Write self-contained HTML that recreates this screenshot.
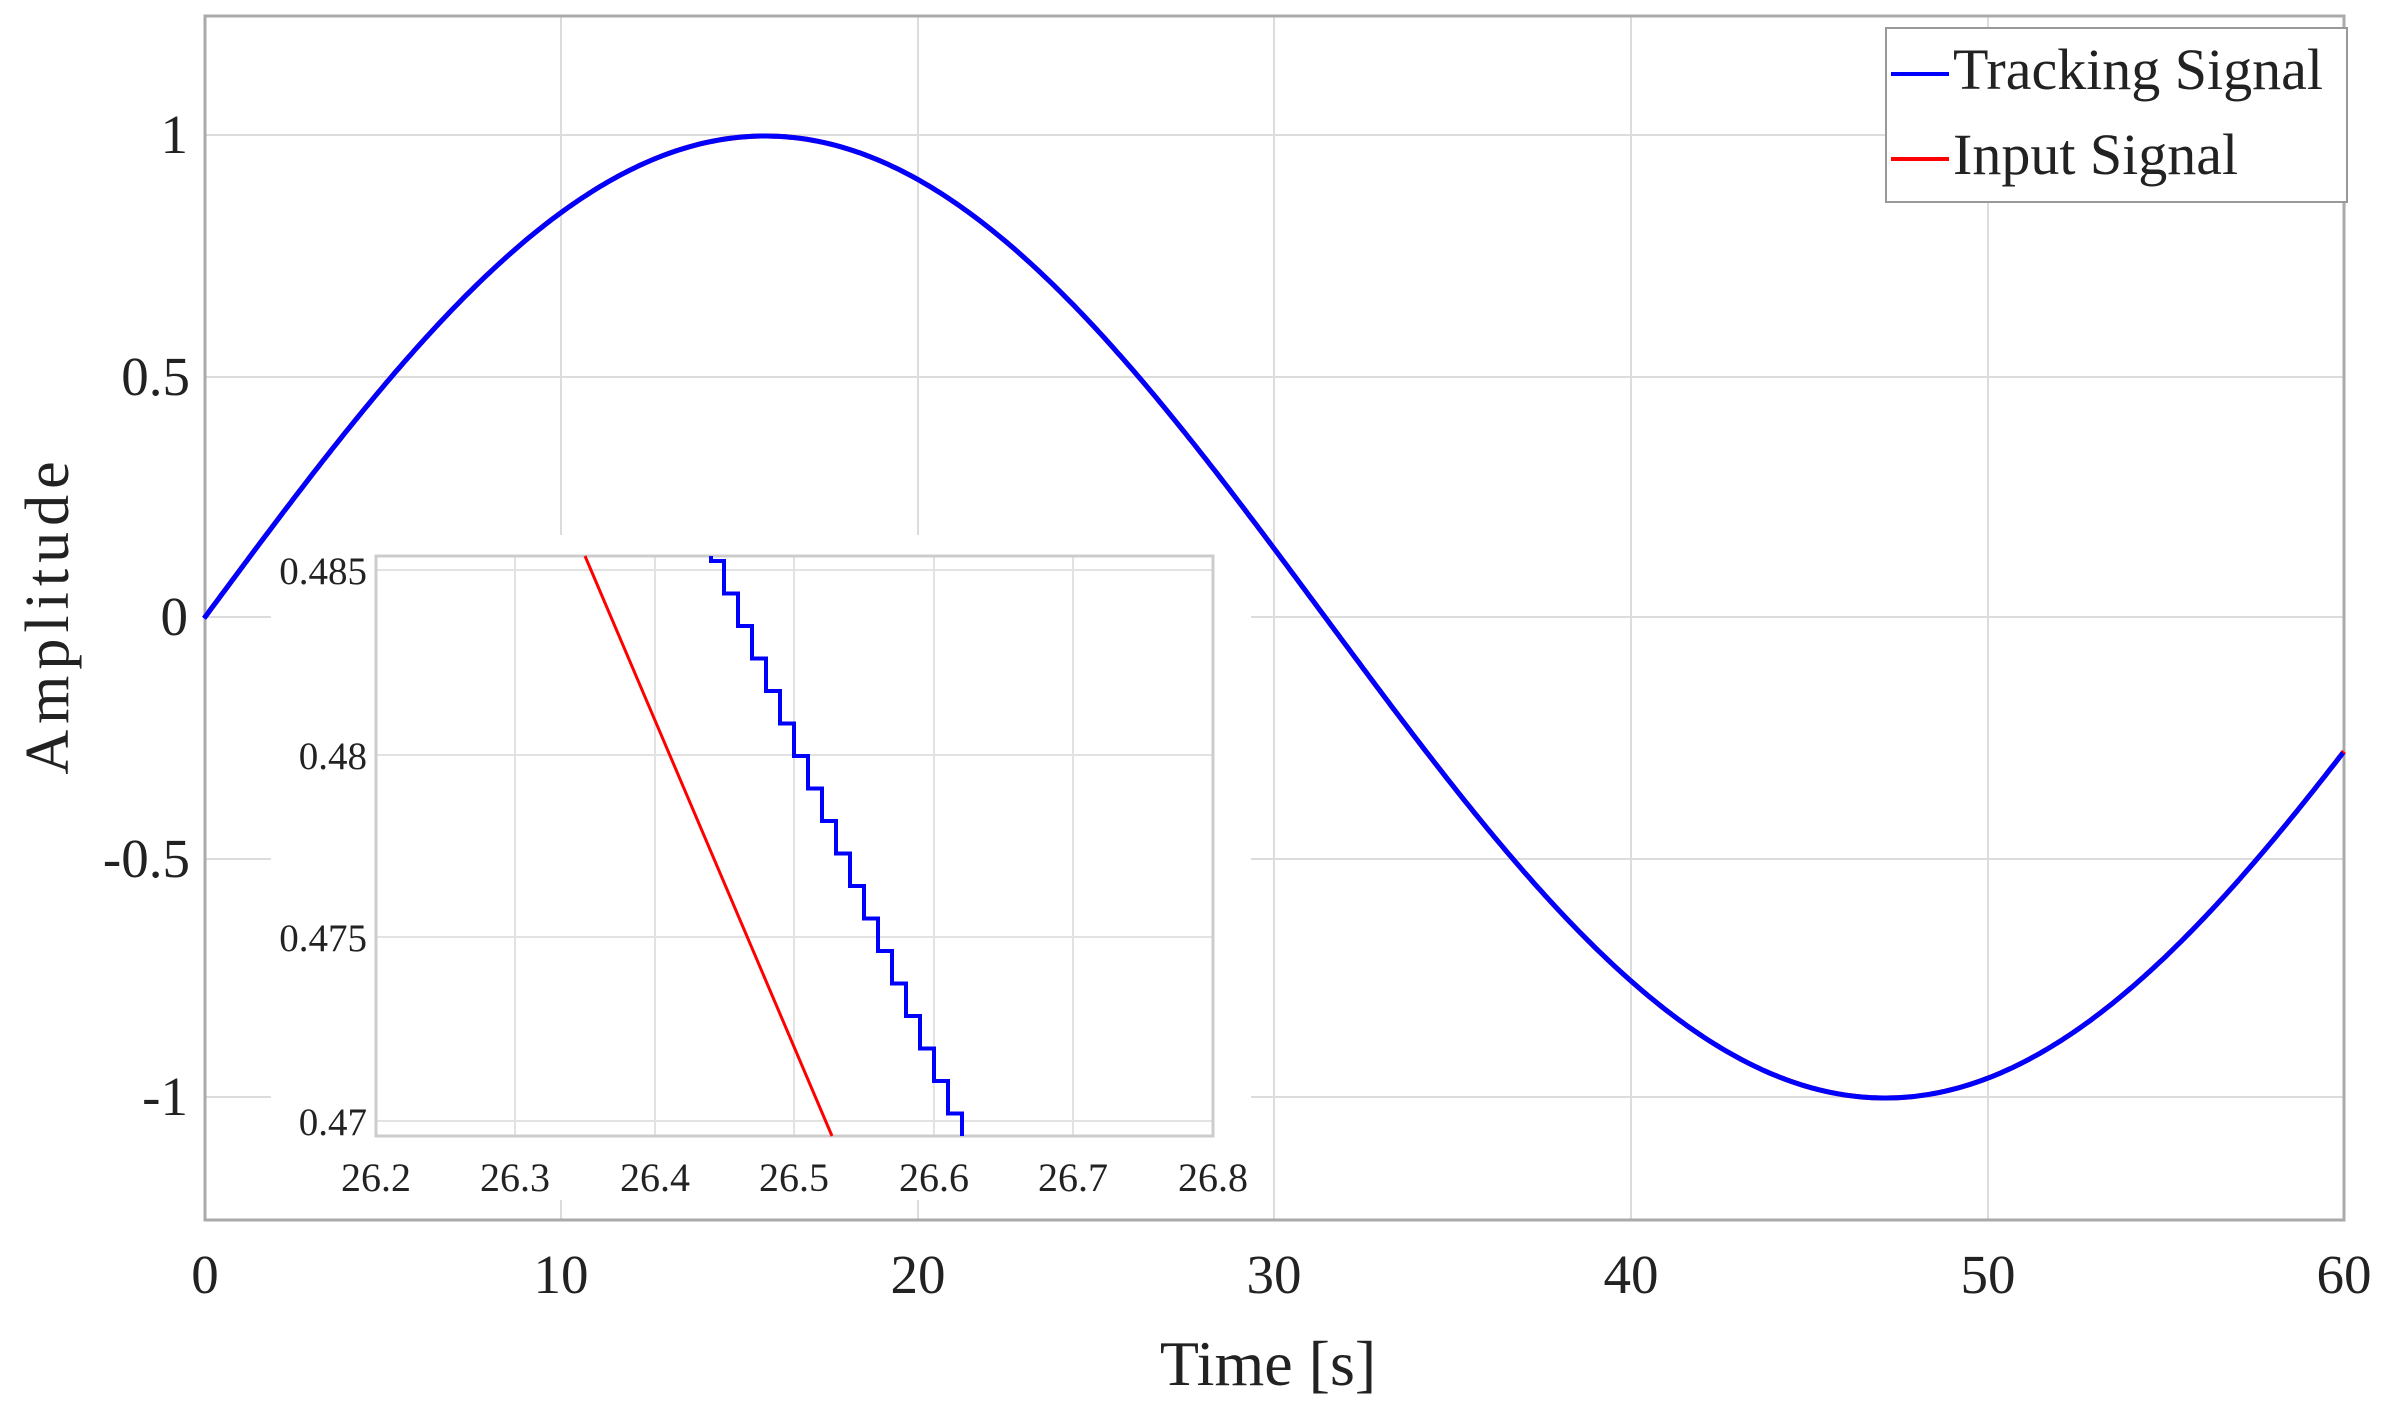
<!DOCTYPE html>
<html><head><meta charset="utf-8"><style>
html,body{margin:0;padding:0;background:#fff;}
svg{display:block;}
text{font-family:"Liberation Serif",serif;fill:#222;}
</style></head><body>
<svg id="s" width="2387" height="1417" viewBox="0 0 2387 1417" xmlns="http://www.w3.org/2000/svg">
<rect width="2387" height="1417" fill="#fff"/>
<g stroke="#dcdcdc" stroke-width="2">
<line x1="561" y1="16" x2="561" y2="1220"/><line x1="918" y1="16" x2="918" y2="1220"/>
<line x1="1274" y1="16" x2="1274" y2="1220"/><line x1="1631" y1="16" x2="1631" y2="1220"/>
<line x1="1988" y1="16" x2="1988" y2="1220"/>
<line x1="205" y1="135" x2="2344" y2="135"/><line x1="205" y1="377" x2="2344" y2="377"/>
<line x1="205" y1="617" x2="2344" y2="617"/><line x1="205" y1="859" x2="2344" y2="859"/>
<line x1="205" y1="1097" x2="2344" y2="1097"/>
</g>
<rect x="205" y="16" width="2139" height="1204" fill="none" stroke="#aaa" stroke-width="3"/>
<path id="red" fill="none" stroke="#ff0000" stroke-width="5"/>
<path id="blue" fill="none" stroke="#0000ff" stroke-width="5"/>
<!-- inset -->
<rect x="271" y="535" width="980" height="665" fill="#fff"/>
<g stroke="#e2e2e2" stroke-width="2">
<line x1="515" y1="556" x2="515" y2="1136"/><line x1="655" y1="556" x2="655" y2="1136"/>
<line x1="794" y1="556" x2="794" y2="1136"/><line x1="934" y1="556" x2="934" y2="1136"/>
<line x1="1073" y1="556" x2="1073" y2="1136"/>
<line x1="376" y1="570" x2="1213" y2="570"/><line x1="376" y1="755" x2="1213" y2="755"/>
<line x1="376" y1="937" x2="1213" y2="937"/><line x1="376" y1="1121" x2="1213" y2="1121"/>
</g>
<rect x="376" y="556" width="837" height="580" fill="none" stroke="#ccc" stroke-width="3"/>
<line x1="585" y1="556" x2="832" y2="1136" stroke="#ff0000" stroke-width="3"/>
<path id="stairs" fill="none" stroke="#0000ff" stroke-width="4"/>
<g font-size="39" text-anchor="end">
<text x="367" y="584">0.485</text><text x="367" y="769">0.48</text>
<text x="367" y="951">0.475</text><text x="367" y="1135">0.47</text>
</g>
<g font-size="40" text-anchor="middle">
<text x="376" y="1191">26.2</text><text x="515" y="1191">26.3</text><text x="655" y="1191">26.4</text>
<text x="794" y="1191">26.5</text><text x="934" y="1191">26.6</text><text x="1073" y="1191">26.7</text>
<text x="1213" y="1191">26.8</text>
</g>
<!-- main labels -->
<g font-size="55" text-anchor="end">
<text x="188" y="153">1</text><text x="190" y="395">0.5</text><text x="188" y="635">0</text>
<text x="190" y="877">-0.5</text><text x="188" y="1115">-1</text>
</g>
<g font-size="55" text-anchor="middle">
<text x="205" y="1293">0</text><text x="561" y="1293">10</text><text x="918" y="1293">20</text>
<text x="1274" y="1293">30</text><text x="1631" y="1293">40</text><text x="1988" y="1293">50</text>
<text x="2344" y="1293">60</text>
</g>
<text x="1268" y="1385" font-size="64" text-anchor="middle">Time [s]</text>
<text transform="translate(68,615) rotate(-90)" font-size="62" text-anchor="middle" letter-spacing="6">Amplitude</text>
<!-- legend -->
<rect x="1886" y="28" width="461" height="174" fill="#fff" stroke="#999" stroke-width="2"/>
<line x1="1891" y1="74" x2="1949" y2="74" stroke="#0000ff" stroke-width="4"/>
<line x1="1891" y1="159" x2="1949" y2="159" stroke="#ff0000" stroke-width="4"/>
<g font-size="58"><text x="1953" y="89">Tracking Signal</text><text x="1953" y="174">Input Signal</text></g>
</svg>
<script>
var r="",b="";
for(var i=0;i<=600;i++){var t=i*0.1;var x=205+t*35.65;
r+=(i?"L":"M")+x.toFixed(1)+","+(617-481*Math.sin(t/10)).toFixed(1);
b+=(i?"L":"M")+(x-1).toFixed(1)+","+(617-481*Math.sin((t-0.03)/10)).toFixed(1);}
document.getElementById("red").setAttribute("d",r);
document.getElementById("blue").setAttribute("d",b);
var s="M711,556 V561 H724";var y=561,x=724;
while(x<962){y+=32.5;if(y>1136)y=1136;s+=" V"+y.toFixed(1);x+=14;s+=" H"+x;}
s+=" V1136";
document.getElementById("stairs").setAttribute("d",s);
</script>
</body></html>
